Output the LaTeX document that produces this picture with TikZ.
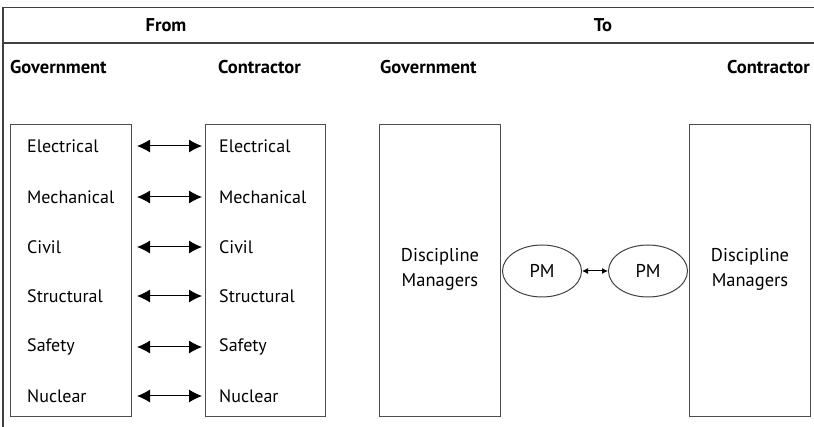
\documentclass[tikz,border=0pt]{standalone}
\usepackage{fontspec}
\setmainfont{PT Sans}
\usetikzlibrary{shapes.geometric,arrows.meta}
\begin{document}
\begin{tikzpicture}[x=1pt,y=-1pt,
  rule/.style={line width=1.1pt,draw=black!75},
  col/.style={draw=black!70,line width=1pt,fill=none},
  hdr/.style={font=\bfseries\fontsize{18.5}{22}\selectfont,inner sep=0pt},
  lbl/.style={font=\fontsize{18}{21}\selectfont,anchor=west,inner sep=0pt},
  dm/.style={font=\fontsize{18.5}{25}\selectfont,align=center,inner sep=0pt},
  pm/.style={ellipse,draw=black!75,line width=1pt,minimum width=79pt,minimum height=52pt,inner sep=0pt,font=\fontsize{18.5}{22}\selectfont},
  link/.style={line width=1pt,{Latex[length=13pt,width=13pt]}-{Latex[length=13pt,width=13pt]}},
  slink/.style={line width=1pt,{Latex[length=6pt,width=6pt]}-{Latex[length=6pt,width=6pt]}}]
\useasboundingbox (0,0) rectangle (814,427);
\coordinate (tl) at (3,7.5);
\coordinate (tr) at (814,7.5);
\coordinate (ml) at (3,43);
\coordinate (mr) at (814,43);
\coordinate (bl) at (3,427);
\draw[rule] (tr) -- (tl) -- (bl);
\draw[rule] (ml) -- (mr);
\node[hdr] (from) at (166,25) {From};
\node[hdr] (to) at (603,25) {To};
\node[hdr,anchor=west] (g1) at (10,67) {Government};
\node[hdr,anchor=west] (c1) at (218,67) {Contractor};
\node[hdr,anchor=west] (g2) at (380,67) {Government};
\node[hdr,anchor=east] (c2) at (810,67) {Contractor};
\node[col,draw,minimum width=121pt,minimum height=292pt,inner sep=0pt] (boxA) at (71,271) {};
\node[col,draw,minimum width=120pt,minimum height=292pt,inner sep=0pt] (boxB) at (265,271) {};
\node[col,draw,minimum width=121pt,minimum height=292pt,inner sep=0pt] (boxC) at (439.5,270.5) {};
\node[col,draw,minimum width=121pt,minimum height=292pt,inner sep=0pt] (boxD) at (749.5,270.5) {};
\foreach \t/\y/\n in {Electrical/146/1,Mechanical/197/2,Civil/247/3,Structural/296/4,Safety/347/5,Nuclear/396/6}{
  \node[lbl] (l\n) at (27,\y) {\t};
  \node[lbl] (r\n) at (219,\y) {\t};
  \coordinate (la\n) at (137,\y);
  \coordinate (ra\n) at (202,\y);
  \draw[link] (la\n) -- (ra\n);
}
\node[dm] (dmL) at (440,269) {Discipline\\Managers};
\node[dm] (dmR) at (750,269) {Discipline\\Managers};
\node[pm] (pmL) at (542,271) {PM};
\node[pm] (pmR) at (648,271) {PM};
\draw[slink] (pmL) -- (pmR);
\end{tikzpicture}
\end{document}
